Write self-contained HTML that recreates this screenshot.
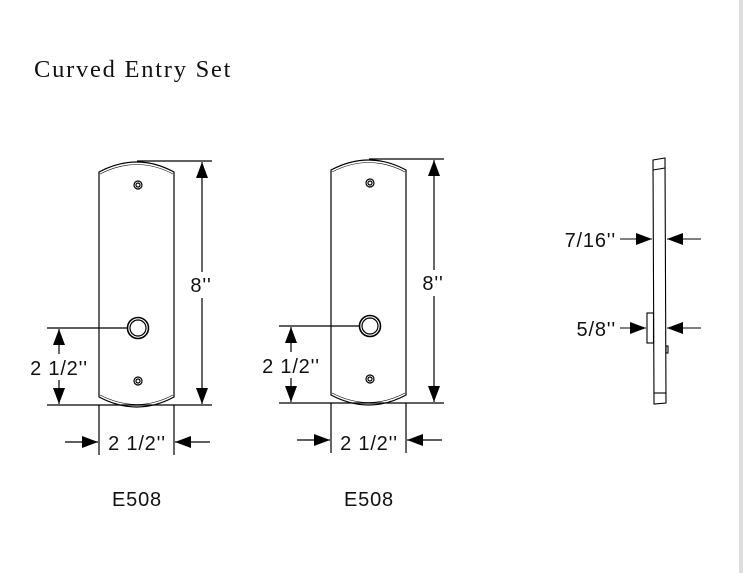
<!DOCTYPE html>
<html><head><style>
body{margin:0;background:#fff;}
svg{display:block;}
text{font-family:"Liberation Sans",sans-serif;font-size:20px;letter-spacing:0.8px;fill:#111;}
</style></head><body>
<svg width="743" height="573" viewBox="0 0 743 573" xmlns="http://www.w3.org/2000/svg">
<defs>
<marker id="b" viewBox="0 0 16 12" refX="16" refY="6" markerWidth="16" markerHeight="13" markerUnits="userSpaceOnUse" orient="auto"><path d="M0,0L16,6L0,12z" fill="#000"/></marker>
<g id="plate" fill="none" stroke="#000" stroke-width="1.2">
  <path d="M99,172 Q137,152 174,172 L174,397 Q137,417 99,397 Z" fill="#fff"/>
  <path d="M100,174 Q137,155 173,174" stroke-width="0.6"/>
  <path d="M100,395 Q137,414 173,395" stroke-width="0.6"/>
  <circle cx="138" cy="185" r="4"/><circle cx="138" cy="185" r="2"/>
  <circle cx="138" cy="381" r="4"/><circle cx="138" cy="381" r="2"/>
  <circle cx="138" cy="328" r="10.5" stroke-width="1.6"/><circle cx="138" cy="328" r="8"/>
  <line x1="47" y1="328" x2="128" y2="328"/>
  <line x1="137" y1="161" x2="212" y2="161"/>
  <line x1="47" y1="405" x2="212" y2="405"/>
  <line x1="202" y1="272" x2="202" y2="162" marker-end="url(#b)"/>
  <line x1="202" y1="298" x2="202" y2="404" marker-end="url(#b)"/>
  <line x1="59" y1="354" x2="59" y2="329" marker-end="url(#b)"/>
  <line x1="59" y1="380" x2="59" y2="404" marker-end="url(#b)"/>
  <line x1="99" y1="405" x2="99" y2="455"/>
  <line x1="174" y1="405" x2="174" y2="455"/>
  <line x1="65" y1="442" x2="98" y2="442" marker-end="url(#b)"/>
  <line x1="210" y1="442" x2="175" y2="442" marker-end="url(#b)"/>
</g>
</defs>
<rect x="739" y="0" width="4" height="573" fill="#ddd"/>
<text x="34" y="77" style="font-family:'Liberation Serif',serif;font-size:24.5px;letter-spacing:0.6px" textLength="197">Curved Entry Set</text>
<use href="#plate"/>
<text x="201" y="292" text-anchor="middle">8''</text>
<text x="59" y="375" text-anchor="middle">2 1/2''</text>
<text x="137" y="450" text-anchor="middle">2 1/2''</text>
<text x="137" y="506" text-anchor="middle">E508</text>
<g transform="translate(232,-2)">
<use href="#plate"/>
<text x="201" y="292" text-anchor="middle">8''</text>
<text x="59" y="375" text-anchor="middle">2 1/2''</text>
<text x="137" y="452" text-anchor="middle">2 1/2''</text>
<text x="137" y="508" text-anchor="middle">E508</text>
</g>
<g fill="none" stroke="#000" stroke-width="1.1">
  <path d="M653,160 L665,158 L666,403 L654,404 Z" fill="#fff"/>
  <line x1="653" y1="170" x2="665" y2="168"/>
  <line x1="654" y1="393" x2="666" y2="393"/>
  <rect x="647" y="313" width="6.5" height="30" fill="#fff"/>
  <rect x="666" y="346" width="2" height="7"/>
  <line x1="620" y1="239" x2="652" y2="239" marker-end="url(#b)"/>
  <line x1="701" y1="239" x2="667" y2="239" marker-end="url(#b)"/>
  <line x1="620" y1="328" x2="646" y2="328" marker-end="url(#b)"/>
  <line x1="701" y1="328" x2="667" y2="328" marker-end="url(#b)"/>
</g>
<text x="616" y="247" text-anchor="end">7/16''</text>
<text x="616" y="336" text-anchor="end">5/8''</text>
</svg>
</body></html>
